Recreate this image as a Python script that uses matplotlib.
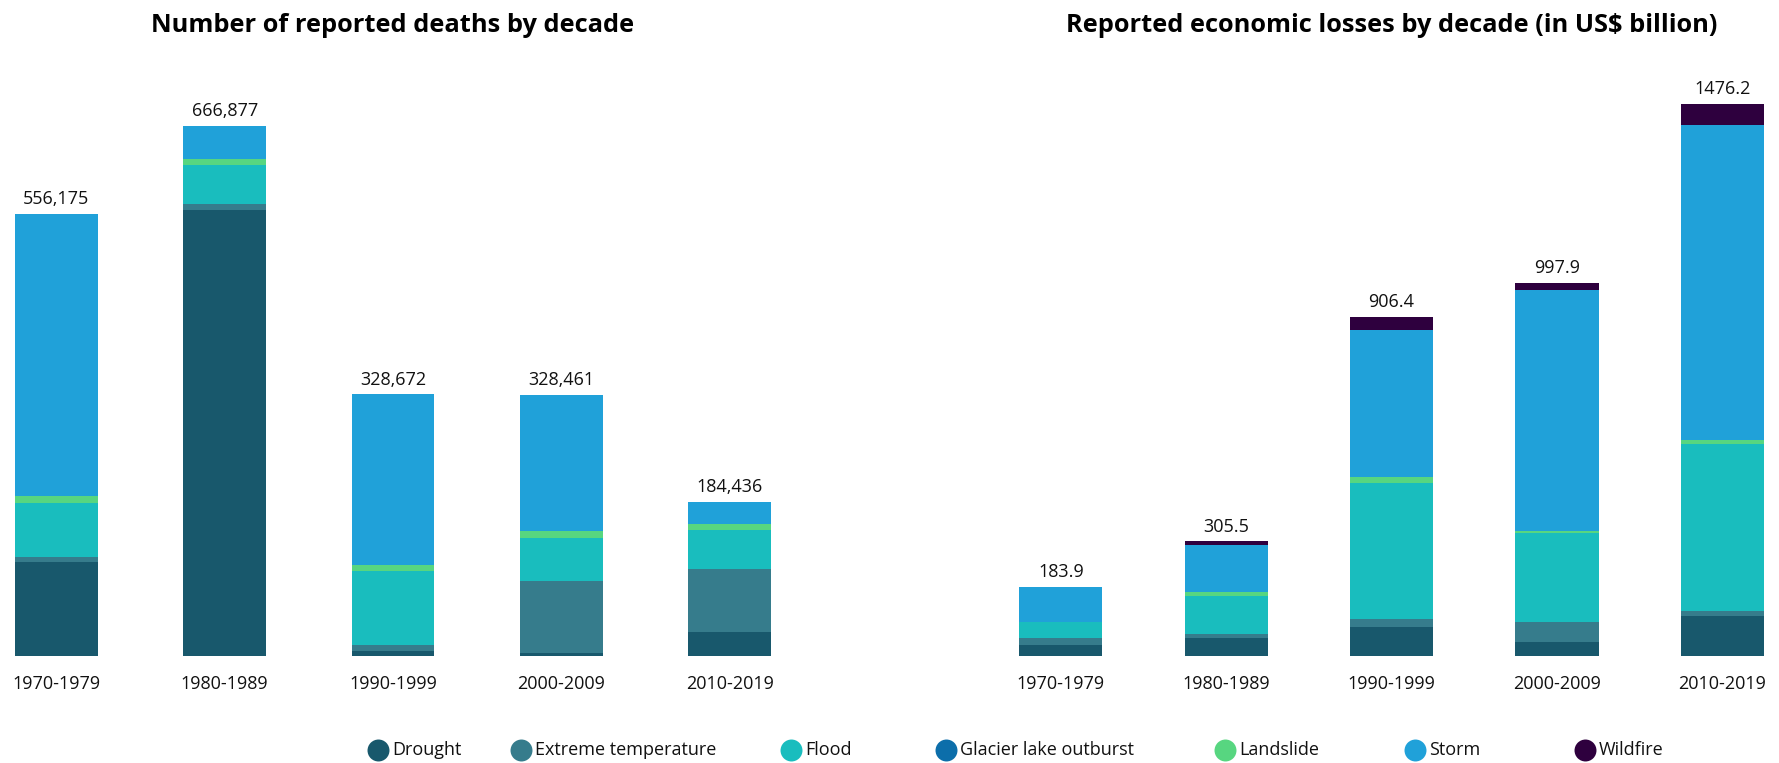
import matplotlib
matplotlib.use("Agg")
import matplotlib.pyplot as plt
import numpy as np

plt.rcParams['font.family'] = ['Open Sans', 'DejaVu Sans']

# Categories
decades = ['1970-1979', '1980-1989', '1990-1999', '2000-2009', '2010-2019']
hazards = ['Drought', 'Extreme temperature', 'Flood', 'Glacier lake outburst',
           'Landslide', 'Storm', 'Wildfire']
colors = ['#18586c', '#367c8c', '#19bdbe', '#0c6eaa', '#57d680', '#20a1d9', '#2e003e']

# Reported deaths by hazard (per decade)
deaths_drought = [118000, 560937, 6260, 3370, 30190]
deaths_extreme = [6260, 7700, 7220, 90540, 79250]
deaths_flood = [67900, 49120, 93430, 53940, 49060]
deaths_glacier = [0, 0, 0, 0, 0]
deaths_landslide = [8670, 6740, 7220, 9150, 7550]
deaths_storm = [355345, 42380, 214542, 171461, 27700]
deaths_wildfire = [0, 0, 0, 0, 0]
deaths_labels = ['556,175', '666,877', '328,672', '328,461', '184,436']

# Reported economic losses, US$ billion
loss_drought = [28.4, 46.8, 75.7, 35.4, 105.4]
loss_extreme = [18.9, 10.6, 23.5, 53.7, 14.0]
loss_flood = [44.1, 103.0, 363.6, 238.5, 446.5]
loss_glacier = [0, 0, 0, 0, 0]
loss_landslide = [0, 10.6, 16.0, 6.4, 10.8]
loss_storm = [92.5, 123.9, 392.4, 643.5, 841.4]
loss_wildfire = [0, 10.6, 35.2, 20.4, 58.1]
loss_labels = ['183.9', '305.5', '906.4', '997.9', '1476.2']

deaths = [deaths_drought, deaths_extreme, deaths_flood, deaths_glacier,
          deaths_landslide, deaths_storm, deaths_wildfire]
losses = [loss_drought, loss_extreme, loss_flood, loss_glacier,
          loss_landslide, loss_storm, loss_wildfire]

W, H = 1779, 763
fig = plt.figure(figsize=(W / 100, H / 100), dpi=100)

base_px = 655.7   # baseline from top
top_px = 100.0    # axes top from top


def make_axes(left_px, right_px, first_center_px, spacing_px, ymax):
    ax = fig.add_axes([left_px / W, (H - base_px) / H,
                       (right_px - left_px) / W, (base_px - top_px) / H])
    x0 = -(first_center_px - left_px) / spacing_px
    ax.set_xlim(x0, x0 + (right_px - left_px) / spacing_px)
    ax.set_ylim(0, ymax)
    for s in ax.spines.values():
        s.set_visible(False)
    ax.set_yticks([])
    return ax


def stacked(ax, series, labels, width):
    x = np.arange(len(decades))
    bottom = np.zeros(len(decades))
    for vals, c in zip(series, colors):
        v = np.array(vals, dtype=float)
        ax.bar(x, v, width, bottom=bottom, color=c, linewidth=0)
        bottom += v
    for xi, b, lab in zip(x, bottom, labels):
        ax.annotate(lab, (xi, b), xytext=(0, 4), textcoords='offset points',
                    ha='center', va='bottom', fontsize=13, color='#111111')
    ax.set_xticks(x)
    ax.set_xticklabels(decades, fontsize=13, color='#111111')
    ax.tick_params(axis='x', length=0, pad=14)


ax1 = make_axes(10, 790, 56.3, 168.35, (base_px - top_px) * 1258)
stacked(ax1, deaths, deaths_labels, 82.7 / 168.35)

ax2 = make_axes(1010, 1775, 1060.8, 165.4, (base_px - top_px) * 2.674)
stacked(ax2, losses, loss_labels, 83.3 / 165.4)

fig.text(393 / W, 1 - 25 / H, 'Number of reported deaths by decade',
         ha='center', va='center', fontsize=18.3, fontweight='bold')
fig.text(1391.5 / W, 1 - 25 / H, 'Reported economic losses by decade (in US$ billion)',
         ha='center', va='center', fontsize=18.3, fontweight='bold')

# Legend drawn along the bottom
leg_x = [377.8, 520.8, 790.8, 946.2, 1225.3, 1414.8, 1585.0]
leg = fig.add_axes([0, 0, 1, 1], zorder=-1)
leg.set_xlim(0, W)
leg.set_ylim(H, 0)
leg.axis('off')
for lx, name, c in zip(leg_x, hazards, colors):
    leg.scatter([lx], [750], s=250, color=c, linewidths=0)
    leg.text(lx + 14, 750, name, ha='left', va='center', fontsize=13, color='#111111')

fig.savefig('out.png', dpi=100)
